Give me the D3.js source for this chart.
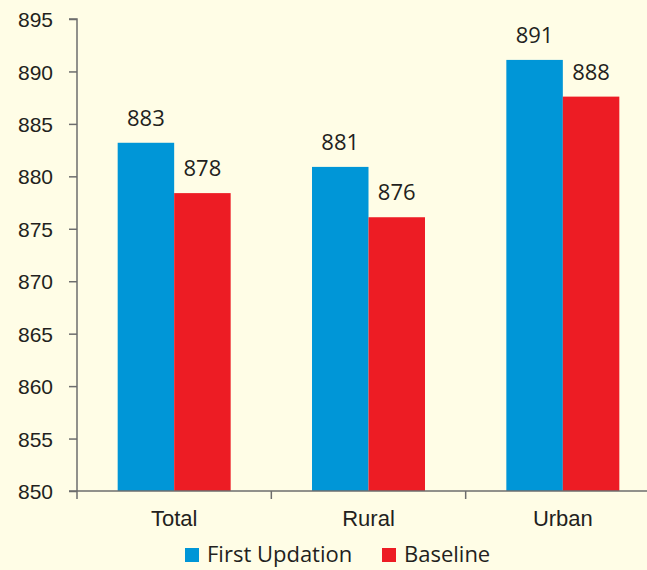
<!DOCTYPE html>
<html>
<head>
<meta charset="utf-8">
<script src="https://cdn.jsdelivr.net/npm/d3@7"></script>
<style>
  html, body { margin: 0; padding: 0; background: #fffde6; }
  svg { display: block; font-family: "Open Sans", "Noto Sans", sans-serif; }
</style>
</head>
<body>
<svg></svg>
<script>
const categories = ["Total", "Rural", "Urban"];
const seriesNames = ["First Updation", "Baseline"];
const firstUpdation = [883.2, 880.9, 891.1];
const baseline = [878.4, 876.1, 887.6];
const yTicks = [850, 855, 860, 865, 870, 875, 880, 885, 890, 895];
const colors = ["#0096d7", "#ed1c24"];

const width = 647, height = 570;
const margin = {top: 19, right: -13, bottom: 79, left: 77};

const svg = d3.select("svg")
    .attr("width", width)
    .attr("height", height);

const x = d3.scaleBand()
    .domain(categories)
    .range([margin.left, width - margin.right])
    .padding(0);

const x1 = d3.scaleBand()
    .domain(seriesNames)
    .range([0, x.bandwidth()])
    .paddingInner(0)
    .paddingOuter(0.72);

const y = d3.scaleLinear()
    .domain([850, 895])
    .range([height - margin.bottom, margin.top]);

// y axis
const yAxis = svg.append("g")
    .attr("transform", `translate(${margin.left},0)`)
    .call(d3.axisLeft(y).tickValues(yTicks).tickSize(8).tickPadding(16).tickFormat(d3.format("d")));
yAxis.select(".domain").attr("stroke", "#6d6d6d").attr("stroke-width", 1.5).attr("d", `M-8,${y(895)}H0V${y(850)}`);
yAxis.selectAll(".tick line").attr("stroke", "#6d6d6d").attr("stroke-width", 1.5);
yAxis.selectAll(".tick text").attr("fill", "#231f20").style("font-size", "21px").attr("dy", "0.36em");

// bars
const rows = categories.map((c, i) => ({cat: c, vals: [firstUpdation[i], baseline[i]]}));
const groups = svg.append("g").selectAll("g")
    .data(rows)
    .join("g")
    .attr("transform", d => `translate(${x(d.cat)},0)`);

groups.selectAll("rect")
    .data(d => d.vals.map((v, j) => ({name: seriesNames[j], v: v, j: j})))
    .join("rect")
    .attr("x", d => x1(d.name))
    .attr("y", d => y(d.v))
    .attr("width", x1.bandwidth())
    .attr("height", d => y(850) - y(d.v))
    .attr("fill", d => colors[d.j]);

groups.selectAll("text")
    .data(d => d.vals.map((v, j) => ({name: seriesNames[j], v: v})))
    .join("text")
    .attr("x", d => x1(d.name) + x1.bandwidth() / 2)
    .attr("y", d => y(d.v) - 17)
    .attr("text-anchor", "middle")
    .attr("fill", "#231f20")
    .style("font-size", "22px")
    .text(d => Math.round(d.v));

// x axis
const xAxis = svg.append("g")
    .attr("transform", `translate(0,${y(850)})`)
    .call(d3.axisBottom(x).tickSize(0).tickPadding(0));
xAxis.select(".domain").attr("stroke", "#6d6d6d").attr("stroke-width", 1.5)
    .attr("d", `M${margin.left - 8},0H${width}`);
xAxis.selectAll(".tick text").attr("fill", "#231f20").style("font-size", "22px")
    .attr("dy", null).attr("y", 35);
xAxis.selectAll(".sep")
    .data(categories)
    .join("line")
    .attr("class", "sep")
    .attr("x1", d => x(d)).attr("x2", d => x(d))
    .attr("y1", 0).attr("y2", 8)
    .attr("stroke", "#6d6d6d").attr("stroke-width", 1.5);

// legend
const legend = svg.append("g").attr("transform", "translate(185,548)");
const legendX = [0, 197];
seriesNames.forEach((name, i) => {
  legend.append("rect")
      .attr("x", legendX[i]).attr("y", 0)
      .attr("width", 14).attr("height", 14)
      .attr("fill", colors[i]);
  legend.append("text")
      .attr("x", legendX[i] + 22).attr("y", 14)
      .attr("fill", "#231f20")
      .style("font-size", "22px")
      .text(name);
});
</script>
</body>
</html>
